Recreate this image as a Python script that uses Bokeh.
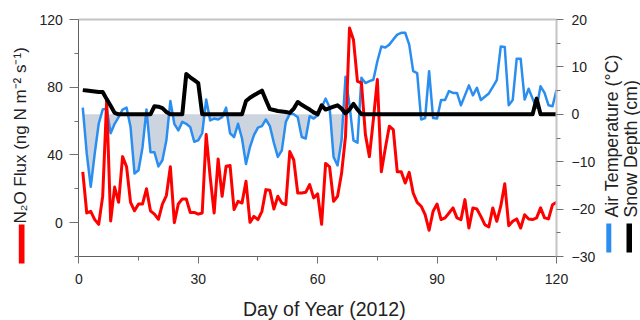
from bokeh.plotting import figure
from bokeh.models import Range1d, LinearAxis, FixedTicker, Label, BoxAnnotation
from bokeh.embed import file_html
from bokeh.resources import INLINE

# ---------------- data ----------------
days = list(range(1, 121))

n2o_flux = [
    30, 5.7, 6.7, 1.8, -1, 15.5, 72, 1, 21, 12,
    39, 33, 12, 7, 11, 11, 20, 7, 5, 2,
    11, 16, 33, 0, 11, 14, 14, 6, 6, 5,
    5.7, 52, 27, 5.7, 37.6, 15.6, 33.3, 33.7, 7.7, 12.6,
    11.6, 24.4, 0.2, 3.7, 1.8, 6.7, 19.5, 19.1, 8.1, 15.6,
    11.6, 10.6, 42, 37, 17.5, 17.5, 17.9, 22.5, 14.6, 17,
    -1, 35, 33, 12.6, 15.6, 29, 51, 115, 108, 83.5,
    82.5, 52, 39, 61, 84.5, 30, 44, 57, 55, 30,
    30, 23.4, 29.7, 17.5, 12, 9.7, 4.7, -4.5, 6.7, 11,
    1.8, 2.8, 5.7, 8.7, 2.8, 1.8, 13.6, -3.2, 8.7, 8.1,
    3.7, -1.2, -2.6, 8.7, 0.8, 9.7, 23, -1.8, 0.8, 2.2,
    -3.2, 4.7, 2.2, 1.8, 2.8, 8.7, 2.8, 2.2, 10.6, 12,
]

air_temp = [
    1.4, -8.3, -15.3, -8.3, -2, 1, 1.2, -4, -2, -0.6,
    1, 1.4, -2.7, -12.5, -11.8, -7, 1, -8, -8, -11,
    -9.7, -5.5, 2.8, -2, -3.4, -1.6, -2, -2.7, -5.8, -5.5,
    -4, 3.1, -1.3, -0.9, -1.1, -0.6, 1.4, -4, -4.8, -2,
    -5.1, -10.5, -6.9, -4.4, -2.8, -2.5, -1.1, -2.5, -6, -9,
    -7.6, -1.6, 0.1, 0, -0.6, -4.8, -5.1, -0.4, -0.9, -0.2,
    1.5, 3.3, 1.5, -9, -10.8, -5.5, 7.9, 2, -5.5, -6,
    7.7, 6.6, 7, 7.3, 11.2, 14.3, 14.1, 14.7, 15.8, 16.8,
    17.2, 17.2, 14.7, 9.1, 8.7, -1.1, -0.8, 9.1, -0.8, -0.9,
    3, 3, 4.9, 4.5, 4.5, 1.9, 4, 6.1, 4, 5.6,
    3, 3.7, 4.4, 5.8, 7.2, 14.3, 14.2, 1.9, 3, 11.7,
    11.7, 3.1, 5.4, 3.3, 1.4, 5.9, 4.5, 1.9, 1.7, 5.1,
]

snow_depth = [
    5.1, 5.0, 4.9, 4.8, 4.7, 4.7, 3.2, 1.8, 0.3, 0,
    0, 0, 0, 0, 0, 0, 0, 0, 1.7, 1.6,
    1.3, 0.5, 0, 0, 0, 0, 8.5, 7.8, 7.2, 6.6,
    0, 0, 0, 0, 0, 0, 0, 0, 0, 0,
    0, 2.8, 3.5, 4.0, 4.5, 5.0, 3.0, 1.1, 0.9, 0.7,
    0.6, 0.5, 0.3, 1.2, 2.6, 2.0, 1.5, 1.0, 0.4, 0,
    1.9, 1.0, 1.3, 1.6, 1.9, 1.2, 0.2, 1.0, 2.2, 1.0,
    0, 0, 0, 0, 0, 0, 0, 0, 0, 0,
    0, 0, 0, 0, 0, 0, 0, 0, 0, 0,
    0, 0, 0, 0, 0, 0, 0, 0, 0, 0,
    0, 0, 0, 0, 0, 0, 0, 0, 0, 0,
    0, 0, 0, 0, 3.3, 0, 0, 0, 0, 0,
]

shade_last_day = 67          # sub-zero shading drawn for the first (frozen) period

x_ticks = [0, 30, 60, 90, 120]
x_minor = [15, 45, 75, 105]
flux_ticks = [0, 40, 80, 120]
flux_minor = [-20, 20, 60, 100]
temp_ticks = [-30, -20, -10, 0, 10, 20]
temp_minor = [-25, -15, -5, 5, 15]

x_label = "Day of Year (2012)"
flux_label = "N\u2082O Flux (ng N m\u207b\u00b2 s\u207b\u00b9)"
temp_label = "Air Temperature (\u00b0C)"
snow_label = "Snow Depth (cm)"

# ---------------- geometry & styling ----------------
FONT = "Liberation Sans"
TXT = "#222222"
RED = "#ff0000"
BLUE = "#2a8ef0"
BLACK = "#000000"
SHADE = "#ccd5df"

W, H = 640, 320
XD = (0, 120)          # day axis extent
YD = (-20, 120)        # flux axis extent
TD = (-30, 20)         # temperature / snow axis extent
PX_L, PX_R = 78.3, 556.0   # canvas x of day 0 and day 120
PX_T, PX_B = 19.0, 256.0   # canvas y of the top and bottom of the plotting area


def x_span(lo, hi):
    k = (hi - lo) / (PX_R - PX_L)
    return lo - PX_L * k, lo + (W - PX_L) * k


def y_span(lo, hi):
    k = (hi - lo) / (PX_B - PX_T)
    return hi - (H - PX_T) * k, hi + PX_T * k


p = figure(width=W, height=H, x_range=Range1d(*x_span(*XD)), y_range=Range1d(*y_span(*YD)),
           output_backend="svg", toolbar_location=None,
           x_axis_location=None, y_axis_location=None, min_border=0)
p.min_border_left = p.min_border_right = p.min_border_top = p.min_border_bottom = 0
p.extra_y_ranges = {"temp": Range1d(*y_span(*TD))}
p.grid.visible = False
p.outline_line_color = None
p.background_fill_color = "white"
p.border_fill_color = "white"


def style_axis(ax, tick_out, minor_out, standoff, line_color, line_width=1):
    ax.major_tick_out = tick_out
    ax.major_tick_in = 0
    ax.minor_tick_out = minor_out
    ax.minor_tick_in = 0
    ax.major_label_standoff = standoff
    ax.major_label_text_font = FONT
    ax.major_label_text_font_size = "14px"
    ax.major_label_text_color = TXT
    ax.axis_line_color = line_color
    ax.axis_line_width = line_width
    ax.major_tick_line_color = "#707070"
    ax.minor_tick_line_color = "#707070"


xax = LinearAxis(ticker=FixedTicker(ticks=x_ticks, minor_ticks=x_minor),
                 fixed_location=YD[0], bounds=XD)
style_axis(xax, 7, 4, 10, "#606060")
p.add_layout(xax, "below")

lax = LinearAxis(ticker=FixedTicker(ticks=flux_ticks, minor_ticks=flux_minor),
                 fixed_location=XD[0], bounds=YD)
style_axis(lax, 9, 4, 7, "#606060")
p.add_layout(lax, "left")

rax = LinearAxis(y_range_name="temp",
                 ticker=FixedTicker(ticks=temp_ticks, minor_ticks=temp_minor),
                 fixed_location=XD[1], bounds=TD)
style_axis(rax, 7, 4, 8, "#c4c4c4", 2)
p.add_layout(rax, "right")

tax = LinearAxis(ticker=FixedTicker(ticks=[], minor_ticks=[]),
                 fixed_location=YD[1], bounds=XD)
tax.major_tick_out = 0
tax.major_tick_in = 0
tax.minor_tick_out = 0
tax.minor_tick_in = 0
tax.major_label_standoff = 0
tax.major_label_text_font_size = "0px"
tax.axis_line_color = "#c4c4c4"
tax.axis_line_width = 2
p.add_layout(tax, "above")

# ---------------- shading of sub-zero air temperature ----------------
end = days.index(shade_last_day)
sx, sy = [], []
for i in range(end):
    d0, d1 = days[i], days[i + 1]
    t0, t1 = air_temp[i], air_temp[i + 1]
    sx.append(d0)
    sy.append(min(t0, 0))
    if (t0 < 0) != (t1 < 0):
        f = t0 / (t0 - t1)
        sx.append(d0 + f * (d1 - d0))
        sy.append(0)
sx.append(days[end])
sy.append(min(air_temp[end], 0))
p.varea(x=sx, y1=sy, y2=0, y_range_name="temp", fill_color=SHADE)

# ---------------- series ----------------
p.line(days, air_temp, y_range_name="temp", line_color=BLUE, line_width=2.5,
       line_join="round")
p.line(days, n2o_flux, line_color=RED, line_width=3, line_join="round")
p.line(days, snow_depth, y_range_name="temp", line_color=BLACK, line_width=4,
       line_join="round")


# ---------------- titles and legend keys (placed by canvas pixel) ----------------
def fx(px):
    lo, hi = XD
    return lo + (px - PX_L) * (hi - lo) / (PX_R - PX_L)


def fy(py):
    lo, hi = YD
    return hi - (py - PX_T) * (hi - lo) / (PX_B - PX_T)


def vtitle(text, px, py, size):
    p.add_layout(Label(x=fx(px), y=fy(py), text=text, angle=90, angle_units="deg",
                       text_align="left", text_baseline="middle",
                       text_font=FONT, text_font_size=size, text_color=TXT))


def key(color, x0, x1, y0, y1):
    p.add_layout(BoxAnnotation(left=fx(x0), right=fx(x1), top=fy(y0), bottom=fy(y1),
                               fill_color=color, fill_alpha=1.0,
                               line_color=None, line_alpha=0))


vtitle(flux_label, 20, 223, "17px")
key(RED, 18.3, 24, 224, 263)

vtitle(temp_label, 611.5, 217, "17.8px")
key(BLUE, 605.8, 610.8, 223, 252)
vtitle(snow_label, 630, 217, "17.8px")
key(BLACK, 626, 631.5, 223, 252)

p.add_layout(Label(x=fx(324), y=fy(297.5), text=x_label, text_align="center",
                   text_baseline="top", text_font=FONT, text_font_size="19.5px",
                   text_color=TXT))

open("out.html", "w").write(file_html(p, INLINE))
